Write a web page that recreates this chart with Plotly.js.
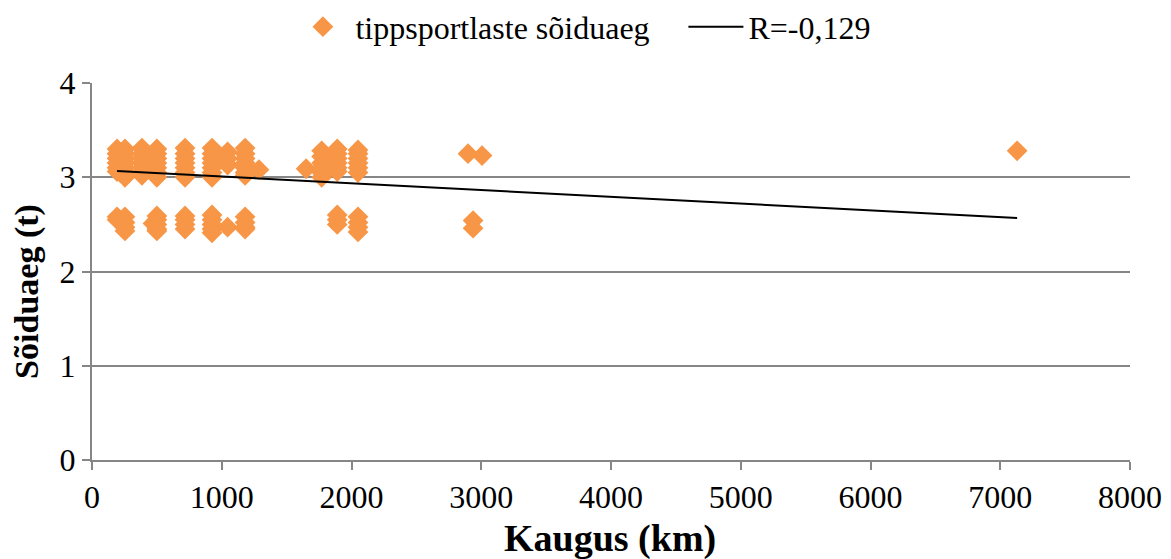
<!DOCTYPE html>
<html>
<head>
<meta charset="utf-8">
<script src="https://cdn.plot.ly/plotly-3.0.1.min.js"></script>
<style>html,body{margin:0;padding:0;background:#fff;}#chart{width:1171px;height:559px;}</style>
</head>
<body>
<div id="chart"></div>
<script>
// Distance (km) and travel time (h) per point
const distanceKm = [
  193,193,193,193,193,193, 193,193,
  254,254,254,254,254,254,254, 254,254,254,254,
  385,385,385,385,385,385,385,
  470,
  500,500,500,500,500,500,500, 500,500,500,500,500,
  717,717,717,717,717,717,717, 717,717,717,717,
  925,925,925,925,925,925,925, 925,925,925,925,925,
  1045,1045,1045, 1045,
  1180,1180,1180,1180,1180,1180,1180, 1180,1180,1180,1180,
  1287,
  1650,
  1770,1770,1770,1770,1770,1770,
  1830,1830,
  1890,1890,1890,1890,1890,1890, 1890,1890,1890,
  2050,2050,2050,2050,2050,2050, 2050,2050,2050,2050,
  2898, 2937,2937, 3006,
  7130
];
const travelTime = [
  3.30,3.25,3.20,3.15,3.10,3.06, 2.58,2.55,
  3.30,3.25,3.20,3.15,3.10,3.05,3.00, 2.58,2.52,2.47,2.43,
  3.31,3.25,3.20,3.15,3.10,3.05,3.02,
  2.51,
  3.30,3.25,3.20,3.15,3.10,3.05,3.00, 2.59,2.55,2.50,2.45,2.43,
  3.31,3.25,3.20,3.15,3.10,3.05,3.00, 2.59,2.55,2.50,2.45,
  3.31,3.25,3.20,3.15,3.10,3.05,3.00, 2.60,2.55,2.50,2.45,2.41,
  3.27,3.20,3.13, 2.47,
  3.31,3.25,3.20,3.15,3.10,3.05,3.02, 2.58,2.52,2.47,2.45,
  3.08,
  3.09,
  3.28,3.22,3.15,3.10,3.05,3.00,
  3.15,3.10,
  3.30,3.25,3.20,3.15,3.10,3.06, 2.60,2.55,2.50,
  3.29,3.25,3.20,3.15,3.10,3.05, 2.58,2.52,2.47,2.42,
  3.25, 2.54,2.46, 3.23,
  3.28
];
// Linear trend line end points
const trendX = [193, 7130];
const trendY = [3.066, 2.567];

const seriesName = 'tippsportlaste sõiduaeg';
const trendName = 'R=-0,129';
const xTitle = 'Kaugus (km)';
const yTitle = 'Sõiduaeg (t)';
const xTicks = [0,1000,2000,3000,4000,5000,6000,7000,8000];
const yTicks = [0,1,2,3,4];

const FONT = 'Liberation Serif, Times New Roman, serif';

const data = [
  {
    x: distanceKm, y: travelTime, type: 'scatter', mode: 'markers', name: seriesName,
    marker: {symbol: 'diamond', size: 16, color: '#F79646', line: {width: 0}}
  },
  {
    x: trendX, y: trendY, type: 'scatter', mode: 'lines', name: trendName,
    line: {color: '#000000', width: 2}
  }
];

const layout = {
  width: 1171, height: 559,
  margin: {l: 92, r: 41, t: 83, b: 99},
  paper_bgcolor: '#ffffff', plot_bgcolor: '#ffffff',
  font: {family: FONT, color: '#000000', size: 32},
  showlegend: true,
  legend: {
    orientation: 'h', x: 0.248, xanchor: 'left', y: 0.952, yanchor: 'middle',
    yref: 'container', xref: 'container',
    itemwidth: 55, entrywidth: 323, entrywidthmode: 'pixels',
    font: {family: FONT, size: 32, color: '#000'}, traceorder: 'normal'
  },
  xaxis: {
    range: [0, 8000], tickvals: xTicks, ticktext: xTicks.map(String),
    showgrid: false, zeroline: false, showline: true, linecolor: '#868686', linewidth: 2,
    ticks: 'outside', ticklen: 8, tickwidth: 2, tickcolor: '#868686',
    tickfont: {family: FONT, size: 32, color: '#000'}
  },
  yaxis: {
    range: [0, 4], tickvals: yTicks, ticktext: yTicks.map(String),
    showgrid: true, gridcolor: '#868686', gridwidth: 2, zeroline: false,
    showline: true, linecolor: '#868686', linewidth: 2,
    ticks: 'outside', ticklen: 8, tickwidth: 2, tickcolor: '#868686',
    tickfont: {family: FONT, size: 32, color: '#000'}
  },
  annotations: [
    {
      text: '<b>' + yTitle + '</b>', textangle: -90, showarrow: false,
      xref: 'paper', yref: 'paper', x: -0.0626, y: 0.446, xanchor: 'center', yanchor: 'middle',
      font: {family: FONT, size: 34, color: '#000'}
    },
    {
      text: '<b>' + xTitle + '</b>', showarrow: false,
      xref: 'paper', yref: 'paper', x: 0.499, y: -0.208, xanchor: 'center', yanchor: 'middle',
      font: {family: FONT, size: 38, color: '#000'}
    }
  ]
};
Plotly.newPlot('chart', data, layout, {staticPlot: true, displayModeBar: false});
</script>
</body>
</html>
